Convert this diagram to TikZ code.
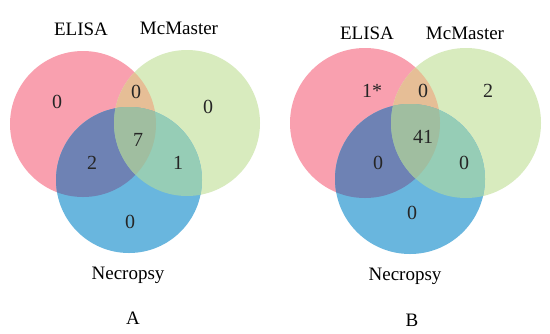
\documentclass[tikz,border=0pt]{standalone}
\usepackage{fontspec}
\setmainfont{Liberation Serif}
\definecolor{cR}{RGB}{249,160,175}
\definecolor{cG}{RGB}{216,235,190}
\definecolor{cB}{RGB}{105,182,222}
\definecolor{cRG}{RGB}{230,190,150}
\definecolor{cRB}{RGB}{110,130,180}
\definecolor{cGB}{RGB}{150,205,182}
\definecolor{cRGB}{RGB}{160,190,160}
\tikzset{lab/.style={font=\fontsize{9.5}{11}\selectfont, text=black, inner sep=0pt},
 num/.style={font=\fontsize{10}{12}\selectfont, text=black!85, inner sep=0pt}}
\newcommand{\vennpanel}[7]{%
 % #1,#2 red center; #3,#4 green; #5,#6 blue; #7 radius
 \fill[cR] (#1,#2) circle[radius=#7];
 \fill[cG] (#3,#4) circle[radius=#7];
 \fill[cB] (#5,#6) circle[radius=#7];
 \begin{scope}\clip (#1,#2) circle[radius=#7]; \fill[cRG] (#3,#4) circle[radius=#7];\end{scope}
 \begin{scope}\clip (#1,#2) circle[radius=#7]; \fill[cRB] (#5,#6) circle[radius=#7];\end{scope}
 \begin{scope}\clip (#3,#4) circle[radius=#7]; \fill[cGB] (#5,#6) circle[radius=#7];\end{scope}
 \begin{scope}\clip (#1,#2) circle[radius=#7]; \clip (#3,#4) circle[radius=#7]; \fill[cRGB] (#5,#6) circle[radius=#7];\end{scope}
}
\begin{document}
\begin{tikzpicture}[x=0.5pt,y=-0.5pt]
\useasboundingbox (0,0) rectangle (550,333);
\fill[white] (0,0) rectangle (550,333);
% Panel A
\vennpanel{83}{124}{187}{123}{129}{180}{36.5pt}
\node[lab] (aE) at (81,29) {ELISA};
\node[lab] (aM) at (179,28) {McMaster};
\node[lab] (aN) at (128,275) {Necropsy};
\node[lab] (aT) at (133,318) {A};
\node[num] (a1) at (57,102) {0};
\node[num] (a2) at (136,92) {0};
\node[num] (a3) at (208,107) {0};
\node[num] (a4) at (138,140) {7};
\node[num] (a5) at (92,163) {2};
\node[num] (a6) at (178,163) {1};
\node[num] (a7) at (130,222) {0};
% Panel B
\vennpanel{365}{123}{466}{123}{410}{179}{37.5pt}
\node[lab] (bE) at (367,33) {ELISA};
\node[lab] (bM) at (465,33) {McMaster};
\node[lab] (bN) at (405,276) {Necropsy};
\node[lab] (bT) at (412,320) {B};
\node[num] (b1) at (372,91) {1*};
\node[num] (b2) at (423,91) {0};
\node[num] (b3) at (488,91) {2};
\node[num] (b4) at (423,137) {41};
\node[num] (b5) at (378,163) {0};
\node[num] (b6) at (464,163) {0};
\node[num] (b7) at (412,213) {0};
\end{tikzpicture}
\end{document}
